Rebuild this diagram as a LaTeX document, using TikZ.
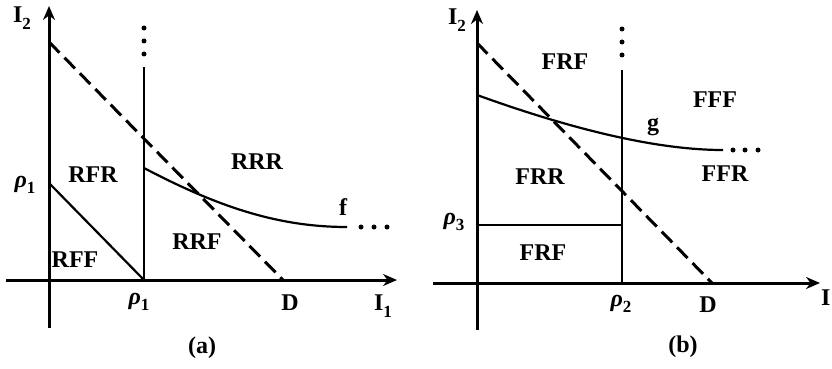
\documentclass[tikz,border=0pt]{standalone}
\usepackage{fontspec}
\setmainfont{Liberation Serif}
\usetikzlibrary{arrows.meta}

\newcommand{\lo}[1]{\raisebox{-0.28em}{\fontsize{17}{18}\selectfont #1}}

\begin{document}
\begin{tikzpicture}[
      x=1pt, y=-1pt,
      axis/.style={
        line width=3pt,
        -{Stealth[length=14pt,width=12pt]}
      },
      bound/.style={line width=2.2pt},
      budget/.style={line width=3pt, dash pattern=on 15pt off 7pt},
      lbl/.style={
        inner sep=0pt,
        font=\fontsize{24}{26}\selectfont\bfseries
      },
      dot/.style={circle, fill, inner sep=0pt, minimum size=5pt}
    ]
      \useasboundingbox (0,0) rectangle (832,369);

      % Panel (a)
      \coordinate (aL) at (6,280);
      \coordinate (aR) at (397,280);
      \coordinate (aB) at (49,328);
      \coordinate (aT) at (49,6);
      \coordinate (aD0) at (49,42);
      \coordinate (aD1) at (283,280);
      \coordinate (aV0) at (144,67);
      \coordinate (aV1) at (144,280);
      \coordinate (aP) at (49,183);
      \coordinate (aF0) at (144,168);
      \coordinate (aF1) at (347,227);

      \draw[axis] (aL) -- (aR);
      \draw[axis] (aB) -- (aT);
      \draw[budget] (aD0) -- (aD1);
      \draw[bound] (aV0) -- (aV1);
      \draw[bound] (aP) -- (aV1);
      \draw[bound] (aF0) .. controls (220,208) and (280,227) .. (aF1);
      \foreach \y in {28,41,54} \node[dot] at (144,\y) {};
      \foreach \x in {361,374,387} \node[dot] at (\x,227) {};

      \node[lbl] (aI2) at (22,18) {I\lo{2}};
      \node[lbl] (aI1) at (383,306) {I\lo{1}};
      \node[lbl] (arho) at (25,185) {\textit{ρ}\lo{1}};
      \node[lbl] (arhox) at (139,302) {\textit{ρ}\lo{1}};
      \node[lbl] (aDD) at (290,303) {D};
      \node[lbl] (af) at (343,207) {f};
      \node[lbl] (aRFR) at (93,175) {RFR};
      \node[lbl] (aRFF) at (75,260) {RFF};
      \node[lbl] (aRRR) at (257,162) {RRR};
      \node[lbl] (aRRF) at (197,242) {RRF};
      \node[lbl] (acap) at (202,348) {(a)};

      % Panel (b)
      \coordinate (bL) at (433,283);
      \coordinate (bR) at (820,283);
      \coordinate (bB) at (477,330);
      \coordinate (bT) at (477,10);
      \coordinate (bD0) at (477,43);
      \coordinate (bD1) at (712,283);
      \coordinate (bV0) at (622,70);
      \coordinate (bV1) at (622,283);
      \coordinate (bP) at (477,225);
      \coordinate (bQ) at (622,225);
      \coordinate (bG0) at (477,95);
      \coordinate (bG1) at (723,150);

      \draw[axis] (bL) -- (bR);
      \draw[axis] (bB) -- (bT);
      \draw[budget] (bD0) -- (bD1);
      \draw[bound] (bV0) -- (bV1);
      \draw[bound] (bP) -- (bQ);
      \draw[bound] (bG0) .. controls (560,125) and (650,150) .. (bG1);
      \foreach \y in {29,42,55} \node[dot] at (622,\y) {};
      \foreach \x in {733,745,758} \node[dot] at (\x,150) {};

      \node[lbl] (bI2) at (457,20) {I\lo{2}};
      \node[lbl, anchor=west] (bI) at (821,298) {I};
      \node[lbl] (brho) at (454,222) {\textit{ρ}\lo{3}};
      \node[lbl] (brhox) at (621,304) {\textit{ρ}\lo{2}};
      \node[lbl] (bDD) at (708,305) {D};
      \node[lbl] (bg) at (653,127) {g};
      \node[lbl] (bFRFt) at (565,62) {FRF};
      \node[lbl] (bFFF) at (715,100) {FFF};
      \node[lbl] (bFRR) at (540,177) {FRR};
      \node[lbl] (bFFR) at (725,174) {FFR};
      \node[lbl] (bFRFb) at (543,253) {FRF};
      \node[lbl] (bcap) at (683,347) {(b)};
    \end{tikzpicture}
\end{document}
